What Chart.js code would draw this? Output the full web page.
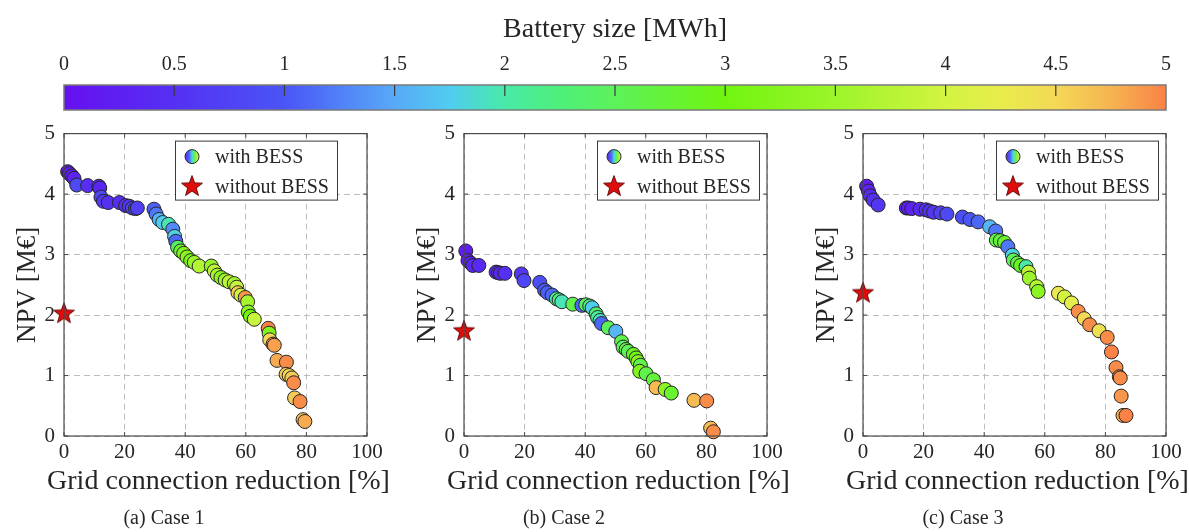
<!DOCTYPE html>
<html>
<head>
<meta charset="utf-8">
<script src="https://cdn.jsdelivr.net/npm/chart.js@4/dist/chart.umd.min.js"></script>
<style>
  html, body { margin: 0; padding: 0; background: #ffffff; }
  body { position: relative; width: 1189px; height: 532px; overflow: hidden; }
  canvas { position: absolute; }
</style>
</head>
<body>
<canvas id="colorbar" width="1189" height="120" style="left:0;top:0"></canvas>
<canvas id="case1" width="390" height="420" style="left:0;top:112px"></canvas>
<canvas id="case2" width="390" height="420" style="left:400px;top:112px"></canvas>
<canvas id="case3" width="390" height="420" style="left:799px;top:112px"></canvas>
<script>
// ---- data -------------------------------------------------------------
// Grid connection reduction [%], NPV [M€] and battery size [MWh] per design
const case1Reduction = [1.2, 1.8, 2.6, 3.3, 4.2, 7.8, 11.5, 11.8, 12.2, 13.0, 14.6, 18.3, 20.3, 21.5, 22.6, 23.6, 24.2,
  29.7, 30.4, 31.4, 32.6, 34.5, 35.9, 36.5, 36.9, 37.5, 38.5, 39.5, 40.6, 41.8, 43.0, 44.6, 48.6, 49.6, 50.6, 51.8,
  53.2, 54.5, 56.2, 57.0, 57.4, 58.4, 59.8, 60.6, 60.8, 61.5, 62.8, 67.4, 67.7, 67.9, 69.0, 69.4, 70.3, 73.4, 73.3,
  74.3, 75.2, 75.8, 76.1, 77.9, 78.9, 79.5];
const case1Npv = [4.37, 4.34, 4.30, 4.26, 4.15, 4.14, 4.13, 4.10, 3.95, 3.88, 3.86, 3.86, 3.81, 3.80, 3.77, 3.76, 3.77,
  3.75, 3.67, 3.58, 3.53, 3.50, 3.42, 3.30, 3.22, 3.12, 3.06, 3.02, 2.96, 2.90, 2.87, 2.81, 2.81, 2.73, 2.66, 2.62,
  2.58, 2.55, 2.52, 2.46, 2.37, 2.33, 2.29, 2.22, 2.05, 1.98, 1.93, 1.78, 1.70, 1.59, 1.52, 1.50, 1.25, 1.22, 1.02,
  1.00, 0.96, 0.88, 0.63, 0.57, 0.27, 0.24];
const case1Battery = [0.15, 0.2, 0.25, 0.3, 0.85, 0.45, 0.4, 0.35, 0.85, 0.6, 0.5, 0.45, 0.5, 0.55, 0.75, 0.85, 0.7,
  1.05, 1.2, 1.55, 1.75, 1.95, 1.3, 1.8, 1.1, 2.4, 2.8, 3.2, 3.3, 3.1, 3.5, 3.7, 3.4, 3.8, 3.6, 3.3,
  3.5, 3.8, 3.6, 3.9, 4.6, 4.0, 4.9, 3.6, 3.3, 3.0, 3.9, 5.0, 3.2, 4.5, 4.95, 4.85, 4.8, 4.95, 4.6,
  4.5, 4.6, 4.95, 4.6, 4.95, 4.6, 4.8];

const case2Reduction = [0.6, 1.3, 2.2, 2.9, 4.9, 10.6, 11.4, 12.0, 13.5, 18.9, 19.8, 25.0, 26.6, 27.5, 29.1, 30.5, 31.4,
  32.3, 35.9, 38.9, 40.2, 41.5, 42.3, 43.6, 44.1, 44.9, 45.4, 47.6, 50.1, 52.0, 52.5, 53.5, 54.2, 55.9, 56.8, 57.4,
  58.2, 58.0, 60.1, 62.5, 63.4, 66.4, 68.4, 75.9, 80.1, 81.4, 82.3];
const case2Npv = [3.06, 2.90, 2.86, 2.82, 2.82, 2.71, 2.70, 2.69, 2.69, 2.68, 2.57, 2.54, 2.41, 2.37, 2.33, 2.27, 2.25,
  2.22, 2.18, 2.16, 2.17, 2.15, 2.12, 2.02, 1.96, 1.91, 1.86, 1.79, 1.73, 1.56, 1.47, 1.43, 1.40, 1.35, 1.29, 1.23,
  1.17, 1.07, 1.03, 0.93, 0.80, 0.77, 0.71, 0.59, 0.58, 0.13, 0.07];
const case2Battery = [0.2, 0.25, 0.3, 0.35, 0.4, 0.4, 0.45, 0.35, 0.5, 0.6, 0.8, 0.9, 1.0, 1.05, 1.1, 2.1, 2.2,
  1.95, 2.6, 1.1, 2.4, 2.2, 1.75, 2.3, 2.1, 1.9, 1.1, 2.5, 1.6, 2.6, 2.4, 2.7, 2.5, 2.9, 3.0, 3.3,
  2.6, 3.2, 2.6, 2.7, 4.7, 3.3, 2.8, 4.7, 4.95, 4.7, 4.95];

const case3Reduction = [1.2, 1.8, 2.4, 3.4, 5.0, 14.3, 15.0, 16.1, 18.8, 20.8, 22.0, 23.3, 25.6, 27.7, 32.8, 35.3, 38.0,
  41.8, 43.8, 44.0, 45.3, 46.7, 47.8, 49.3, 49.6, 51.0, 52.0, 53.8, 54.6, 54.9, 57.3, 57.8, 64.5, 66.5, 68.8, 71.0,
  73.0, 74.8, 77.9, 80.6, 82.0, 83.5, 84.6, 84.9, 85.2, 85.8, 86.8];
const case3Npv = [4.13, 4.05, 3.97, 3.90, 3.82, 3.77, 3.77, 3.76, 3.75, 3.74, 3.72, 3.70, 3.69, 3.67, 3.62, 3.58, 3.54,
  3.46, 3.39, 3.24, 3.23, 3.20, 3.13, 2.99, 2.91, 2.86, 2.82, 2.80, 2.71, 2.61, 2.47, 2.39, 2.36, 2.30, 2.20, 2.06,
  1.94, 1.84, 1.74, 1.63, 1.39, 1.13, 0.98, 0.96, 0.66, 0.34, 0.34];
const case3Battery = [0.2, 0.3, 0.4, 0.5, 0.6, 0.3, 0.25, 0.3, 0.4, 0.5, 0.55, 0.6, 0.7, 0.85, 0.9, 1.0, 1.1,
  1.6, 1.2, 2.6, 2.7, 2.8, 1.2, 1.8, 2.5, 2.6, 2.9, 2.0, 3.8, 3.5, 3.7, 3.3, 4.3, 4.0, 4.2, 4.95,
  4.5, 4.95, 4.4, 4.95, 5.0, 4.95, 4.9, 4.95, 4.9, 4.8, 5.0];

// Reference designs without storage (zero reduction)
const noBessReduction = [0, 0, 0];
const noBessNpv = [2.03, 1.74, 2.37];

const caseCaptions = ['(a) Case 1', '(b) Case 2', '(c) Case 3'];
const seriesLabels = ['with BESS', 'without BESS'];
const xAxisLabel = 'Grid connection reduction [%]';
const yAxisLabel = 'NPV [M€]';
const reductionTicks = [0, 20, 40, 60, 80, 100];
const npvTicks = [0, 1, 2, 3, 4, 5];
const batteryTicks = [0, 0.5, 1, 1.5, 2, 2.5, 3, 3.5, 4, 4.5, 5];

// ---- colormap (battery size 0..5 MWh) ----------------------------------
const cmapStops = [0, 0.5, 1, 1.25, 1.5, 1.75, 2, 2.25, 2.5, 3, 3.5, 4, 4.25, 4.5, 4.75, 5];
const cmapHex = ['#6610f0', '#5530f3', '#4a55f5', '#5080f8', '#58aaf8', '#50ccf0', '#48eaa8', '#4ef07a',
  '#5cf25a', '#70f510', '#9cf52a', '#d2f440', '#e8ec4c', '#f4d856', '#f6b452', '#fa8246'];

function hexToRgb(h) {
  const n = parseInt(h.slice(1), 16);
  return [(n >> 16) & 255, (n >> 8) & 255, n & 255];
}
function colorAt(v) {
  const t = Math.max(cmapStops[0], Math.min(cmapStops[cmapStops.length - 1], v));
  for (let i = 0; i < cmapStops.length - 1; i++) {
    if (t <= cmapStops[i + 1]) {
      const f = (t - cmapStops[i]) / (cmapStops[i + 1] - cmapStops[i]);
      const a = hexToRgb(cmapHex[i]), b = hexToRgb(cmapHex[i + 1]);
      const c = a.map((x, k) => Math.round(x + (b[k] - x) * f));
      return `rgb(${c[0]},${c[1]},${c[2]})`;
    }
  }
  return cmapHex[cmapHex.length - 1];
}

// ---- shared styling ----------------------------------------------------
const FONT = '"Liberation Serif", "DejaVu Serif", serif';
const TEXT = '#262626';
const FRAME = '#4a4a4a';

// filled five-point star used for the no-storage reference
function makeStar() {
  const c = document.createElement('canvas');
  c.width = 26; c.height = 26;
  const g = c.getContext('2d');
  g.beginPath();
  for (let i = 0; i < 10; i++) {
    const r = i % 2 === 0 ? 11 : 4.5;
    const a = -Math.PI / 2 + i * Math.PI / 5;
    const x = 13 + r * Math.cos(a), y = 13.5 + r * Math.sin(a);
    i === 0 ? g.moveTo(x, y) : g.lineTo(x, y);
  }
  g.closePath();
  g.fillStyle = '#e00d0d';
  g.fill();
  g.lineWidth = 0.9;
  g.strokeStyle = '#5a0000';
  g.stroke();
  return c;
}
const starImg = makeStar();

// axes box with inward tick marks
const boxPlugin = {
  id: 'axesBox',
  afterDatasetsDraw(chart) {
    const { ctx, chartArea: a, scales } = chart;
    ctx.save();
    ctx.strokeStyle = FRAME;
    ctx.lineWidth = 1.2;
    ctx.strokeRect(a.left, a.top, a.right - a.left, a.bottom - a.top);
    ctx.lineWidth = 1;
    ctx.beginPath();
    scales.x.ticks.forEach(t => {
      const px = scales.x.getPixelForValue(t.value);
      ctx.moveTo(px, a.bottom); ctx.lineTo(px, a.bottom - 4);
      ctx.moveTo(px, a.top); ctx.lineTo(px, a.top + 4);
    });
    scales.y.ticks.forEach(t => {
      const py = scales.y.getPixelForValue(t.value);
      ctx.moveTo(a.left, py); ctx.lineTo(a.left + 4, py);
      ctx.moveTo(a.right, py); ctx.lineTo(a.right - 4, py);
    });
    ctx.stroke();
    ctx.restore();
  }
};

// boxed legend in the upper right corner of each panel
const legendPlugin = {
  id: 'boxLegend',
  afterDraw(chart, args, opts) {
    const { ctx, chartArea: a } = chart;
    const w = 162, h = 59;
    const x0 = a.right - opts.rightGap - w, y0 = a.top + 7;
    ctx.save();
    ctx.fillStyle = '#ffffff';
    ctx.fillRect(x0, y0, w, h);
    ctx.strokeStyle = '#3a3a3a';
    ctx.lineWidth = 1;
    ctx.strokeRect(x0 + 0.5, y0 + 0.5, w, h);

    // multicolour circle for the storage designs
    const cx = x0 + 17, cy = y0 + 16, r = 7;
    const grad = ctx.createLinearGradient(cx - r, 0, cx + r, 0);
    grad.addColorStop(0, colorAt(0.3));
    grad.addColorStop(0.3, colorAt(1.1));
    grad.addColorStop(0.5, colorAt(1.8));
    grad.addColorStop(0.7, colorAt(2.6));
    grad.addColorStop(1, colorAt(4.2));
    ctx.beginPath();
    ctx.arc(cx, cy, r, 0, Math.PI * 2);
    ctx.fillStyle = grad;
    ctx.fill();
    ctx.strokeStyle = '#2a2a2a';
    ctx.stroke();

    ctx.drawImage(starImg, cx - 13, y0 + 46 - 13.5);

    ctx.fillStyle = TEXT;
    ctx.font = '20px ' + FONT;
    ctx.textBaseline = 'middle';
    ctx.textAlign = 'left';
    const labels = chart.data.datasets.map(d => d.label);
    ctx.fillText(labels[0], x0 + 40, cy + 1);
    ctx.fillText(labels[1], x0 + 40, y0 + 47);
    ctx.restore();
  }
};

// x-axis label (drawn at natural width) and the sub-figure caption
const captionPlugin = {
  id: 'panelText',
  afterDraw(chart, args, opts) {
    const { ctx, chartArea: a } = chart;
    ctx.save();
    ctx.fillStyle = TEXT;
    ctx.textAlign = 'center';
    ctx.textBaseline = 'middle';
    ctx.font = '28px ' + FONT;
    ctx.fillText(opts.xLabel, (a.left + a.right) / 2 + 3, a.bottom + 46);
    ctx.font = '20px ' + FONT;
    ctx.fillText(opts.caption, opts.captionX, opts.captionY);
    ctx.restore();
  }
};

function drawCase(id, reduction, npv, battery, k, rightGap) {
  const points = reduction.map((x, i) => ({ x, y: npv[i] }));
  new Chart(document.getElementById(id), {
    type: 'scatter',
    data: {
      datasets: [
        {
          label: seriesLabels[0],
          data: points,
          pointRadius: 7,
          pointBackgroundColor: battery.map(colorAt),
          pointBorderColor: '#262626',
          pointBorderWidth: 1,
          clip: false,
          order: 1
        },
        {
          label: seriesLabels[1],
          data: [{ x: noBessReduction[k], y: noBessNpv[k] }],
          pointStyle: starImg,
          pointRadius: 11,
          clip: false,
          order: 0
        }
      ]
    },
    options: {
      responsive: false,
      animation: false,
      events: [],
      layout: { padding: { left: 0, right: 23, top: 15, bottom: 35 } },
      plugins: {
        legend: { display: false },
        tooltip: { enabled: false },
        title: { display: false },
        boxLegend: { rightGap },
        panelText: { xLabel: xAxisLabel, caption: caseCaptions[k], captionX: 164, captionY: 407 }
      },
      scales: {
        x: {
          type: 'linear',
          min: 0, max: 100,
          afterBuildTicks: s => { s.ticks = reductionTicks.map(v => ({ value: v })); },
          afterFit: s => { s.height = 61; },
          ticks: { color: TEXT, font: { family: FONT, size: 21 }, padding: 4, autoSkip: false, maxRotation: 0 },
          grid: { color: '#bdbdbd', lineWidth: 1, drawTicks: false },
          border: { display: false, dash: [6, 4] },
          title: { display: false }
        },
        y: {
          type: 'linear',
          min: 0, max: 5,
          afterBuildTicks: s => { s.ticks = npvTicks.map(v => ({ value: v })); },
          afterFit: s => { s.width = 64; },
          ticks: { color: TEXT, font: { family: FONT, size: 21 }, padding: 9, autoSkip: false },
          grid: { color: '#bdbdbd', lineWidth: 1, drawTicks: false },
          border: { display: false, dash: [6, 4] },
          title: {
            display: true, text: yAxisLabel, color: TEXT,
            font: { family: FONT, size: 27 }, padding: { top: 12, bottom: 0 }
          }
        }
      }
    },
    plugins: [boxPlugin, legendPlugin, captionPlugin]
  });
}

drawCase('case1', case1Reduction, case1Npv, case1Battery, 0, 30);
drawCase('case2', case2Reduction, case2Npv, case2Battery, 1, 8);
drawCase('case3', case3Reduction, case3Npv, case3Battery, 2, 8);

// ---- colour bar --------------------------------------------------------
const colorbarPlugin = {
  id: 'colorbarFill',
  beforeDatasetsDraw(chart) {
    const { ctx, chartArea: a, scales } = chart;
    const xs = scales.x;
    ctx.save();
    const grad = ctx.createLinearGradient(a.left, 0, a.right, 0);
    cmapStops.forEach((v, i) => grad.addColorStop((v - xs.min) / (xs.max - xs.min), cmapHex[i]));
    ctx.fillStyle = grad;
    ctx.fillRect(a.left, a.top, a.right - a.left, a.bottom - a.top);
    ctx.strokeStyle = '#7a7a7a';
    ctx.lineWidth = 1.5;
    ctx.strokeRect(a.left, a.top, a.right - a.left, a.bottom - a.top);
    ctx.strokeStyle = '#3a3a3a';
    ctx.lineWidth = 1.2;
    ctx.beginPath();
    xs.ticks.forEach(t => {
      if (t.value <= xs.min || t.value >= xs.max) return;
      const px = xs.getPixelForValue(t.value);
      ctx.moveTo(px, a.top); ctx.lineTo(px, a.top + 11);
    });
    ctx.stroke();
    ctx.restore();
  }
};

new Chart(document.getElementById('colorbar'), {
  type: 'scatter',
  data: { datasets: [] },
  options: {
    responsive: false,
    animation: false,
    events: [],
    layout: { padding: { left: 64, right: 23, top: 0, bottom: 10 } },
    plugins: { legend: { display: false }, tooltip: { enabled: false } },
    scales: {
      x: {
        type: 'linear',
        position: 'top',
        min: 0, max: 5,
        afterBuildTicks: s => { s.ticks = batteryTicks.map(v => ({ value: v })); },
        afterFit: s => { s.height = 85; },
        ticks: {
          color: TEXT, font: { family: FONT, size: 20 }, padding: 8, autoSkip: false, maxRotation: 0,
          callback: v => String(v)
        },
        grid: { display: false, drawTicks: false },
        border: { display: false },
        title: {
          display: true, text: 'Battery size [MWh]', color: TEXT,
          font: { family: FONT, size: 28 }, padding: { top: 13, bottom: 0 }
        }
      },
      y: { display: false, min: 0, max: 1 }
    }
  },
  plugins: [colorbarPlugin]
});
</script>
</body>
</html>
